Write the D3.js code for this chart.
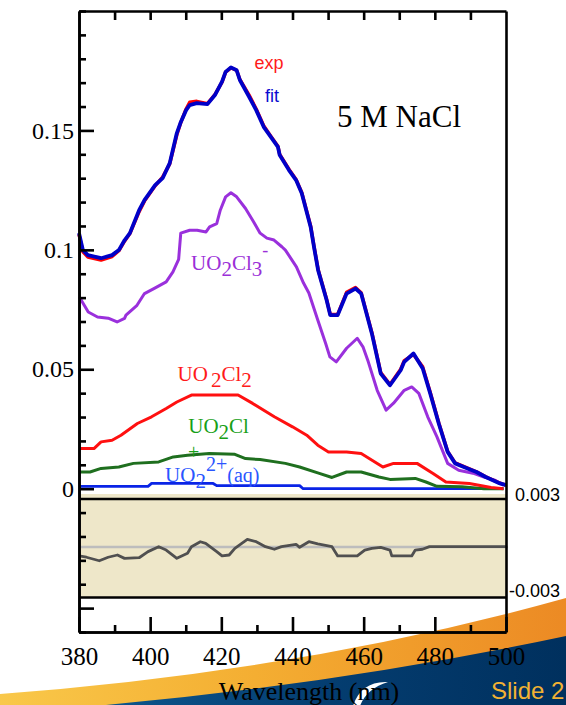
<!DOCTYPE html>
<html><head><meta charset="utf-8">
<script src="https://cdn.jsdelivr.net/npm/d3@7"></script>
<style>html,body{margin:0;padding:0;background:#fff;overflow:hidden}</style>
</head><body>
<svg id="c" width="566" height="705"></svg>
<script>
// ---------------- data ----------------
const wlFit = [380,381.1,382.5,386.2,389.3,391.2,392.8,394.3,396.9,398.4,401.4,403.5,405.5,407.5,408.5,410.1,411.1,413.1,416.1,418.2,420.2,421.2,422.7,424.3,425.2,427.8,429.8,431.9,433.9,435.9,436.4,439,441,442.6,444.1,445.1,446.1,447.2,449.6,450.6,452.7,455.2,457.7,459.3,462.3,464.8,467.4,470.4,471.4,474,476.6,478.7,481.1,483.6,485.7,489.2,491.7,494.3,498.3,500];
const absFit = [0.107,0.0999,0.0978,0.0965,0.0978,0.0999,0.104,0.107,0.1166,0.1208,0.1271,0.130,0.1363,0.1489,0.1531,0.1585,0.1606,0.1614,0.161,0.1648,0.1704,0.1745,0.1764,0.1752,0.1711,0.1641,0.1585,0.1515,0.1473,0.1431,0.1397,0.1334,0.1292,0.1237,0.1152,0.1096,0.1007,0.0915,0.0789,0.0727,0.0727,0.0817,0.0838,0.0817,0.065,0.0482,0.0433,0.0496,0.0531,0.0566,0.0503,0.0399,0.0273,0.0154,0.0106,0.0085,0.007,0.0049,0.0022,0.0015];
const absExp = [0.1065,0.0992,0.0970,0.0957,0.0972,0.0996,0.1036,0.1068,0.1160,0.1204,0.1268,0.1305,0.1360,0.1482,0.1528,0.1590,0.1618,0.1622,0.1612,0.1650,0.1702,0.1744,0.1762,0.1752,0.1714,0.1648,0.1590,0.1520,0.1476,0.1434,0.1400,0.1338,0.1295,0.1240,0.1156,0.1100,0.1010,0.0918,0.0792,0.0730,0.0730,0.0822,0.0842,0.0820,0.0654,0.0486,0.0436,0.0500,0.0536,0.0562,0.0510,0.0404,0.0276,0.0156,0.0108,0.0086,0.0071,0.0050,0.0023,0.0015];

const wlCl3 = [380.1,382.6,385.2,388.2,390.7,392.8,393.2,396.3,398.4,401.3,404.5,406.4,408.0,408.6,411.1,413.2,415.7,416.7,418.7,419.7,421.2,422.7,424.3,426.8,428.8,430.9,432.8,434.8,437,438,441.1,443.1,444.6,447.1,449.3,450.5,452.3,455.2,458.2,459.8,461.3,463.8,466.3,468.4,471.4,473.5,475.5,478,480.6,483.6,486.7,490.7,493.8,496.8,499.3];
const absCl3 = [0.0803,0.074,0.0719,0.0714,0.0698,0.0713,0.0727,0.0768,0.0817,0.084,0.0866,0.0908,0.0960,0.1070,0.1082,0.1082,0.1075,0.1096,0.111,0.1166,0.1222,0.1239,0.1222,0.1173,0.1124,0.107,0.1049,0.1041,0.1013,0.0999,0.0929,0.0861,0.0819,0.0706,0.0609,0.0552,0.0531,0.0588,0.063,0.0594,0.0531,0.0412,0.0329,0.0358,0.0412,0.0426,0.0399,0.0301,0.0217,0.0106,0.0077,0.0065,0.0049,0.0036,0.0015];

const wlCl2 = [380.1,384.2,386.2,389.3,391.8,396.4,400.4,404.5,407.5,411.6,424.7,428.8,434.9,440,444,447.1,450.1,455.2,459.3,465.4,468.4,475,479.5,483.1,489.7,495.8,499.3];
const absCl2 = [0.0168,0.0168,0.0196,0.0203,0.0224,0.0273,0.0301,0.0336,0.0363,0.0392,0.0392,0.0357,0.0301,0.0259,0.0224,0.0182,0.0154,0.0154,0.0147,0.0091,0.0106,0.0106,0.0064,0.0028,0.0022,0.0005,0.0];

const wlCl = [380.1,383.1,386.2,391.2,395.3,402.4,406.5,410.5,416.6,423.8,426.8,430.9,438,442,447.1,451.1,455.2,459.3,464.3,467.4,474.5,477.5,480.6,487.6,493.8,499.3];
const absCl = [0.007,0.007,0.0085,0.0091,0.0106,0.0112,0.0133,0.014,0.0147,0.0144,0.0126,0.0122,0.0106,0.0091,0.0066,0.0047,0.007,0.007,0.0049,0.0039,0.0043,0.0028,0.001,0.0008,0.0,0.0];

const wlAq = [380.1,399.4,400.4,417.7,418.7,442,443,499.3];
const absAq = [0.001,0.001,0.0022,0.0022,0.0013,0.0013,0.0,0.0];

const wlRes = [380,382.1,385.7,388.2,390.8,392.8,396.9,399.4,402.4,404.5,407.5,410.5,411.6,414.1,415.6,418.7,420.2,422.2,423.8,427.3,429.8,432.4,434.9,436.9,441,442,444.6,447.1,451.1,452.7,458.2,460.3,462.3,464.8,467.4,467.9,473.5,474.5,476.5,478.5,500];
const resid = [-0.00056,-0.00064,-0.00086,-0.00064,-0.0005,-0.00071,-0.00067,-0.00029,0.00002,-0.00019,-0.00071,-0.00039,0.00002,0.00033,0.00023,-0.00029,-0.00056,-0.0005,-0.00008,0.00048,0.00033,0.00002,-0.00014,0.00002,0.00017,-0.00002,0.00033,0.00019,0.00002,-0.00056,-0.00056,-0.00019,-0.00008,-0.00002,-0.00019,-0.00056,-0.00056,-0.00019,-0.00014,0.00002,0.00002];

const xMajor = [380,400,420,440,460,480,500];
const xTickLabels = ["380","400","420","440","460","480","500"];
const yMajor = [-0.05,0,0.05,0.1,0.15];
const yTickLabels = ["","0","0.05","0.1","0.15"];
const resTicks = [0.003,-0.003];
const resTickLabels = ["0.003","-0.003"];

// ---------------- layout ----------------
const svg = d3.select('#c');
const L=79, R=506, T=11, B=632;
const x = d3.scaleLinear().domain([380,500]).range([L,R]);
const y = d3.scaleLinear().domain([-0.06,0.2]).range([B,T]);
const r = d3.scaleLinear().domain([-0.003,0.003]).range([595,499]);
const SERIF = "'Liberation Serif','Times New Roman',serif";
const SANS = "'Liberation Sans',Arial,sans-serif";

// background slide decoration
const defs = svg.append('defs');
const g1 = defs.append('linearGradient').attr('id','orng').attr('x1','0').attr('x2','1').attr('y1','0').attr('y2','0');
g1.append('stop').attr('offset','0').attr('stop-color','#f9c84a');
g1.append('stop').attr('offset','0.45').attr('stop-color','#f4ae32');
g1.append('stop').attr('offset','1').attr('stop-color','#ec8a24');
const g2 = defs.append('linearGradient').attr('id','dblue').attr('x1','0').attr('x2','1').attr('y1','0').attr('y2','0');
g2.append('stop').attr('offset','0').attr('stop-color','#0d578e');
g2.append('stop').attr('offset','0.5').attr('stop-color','#043d70');
g2.append('stop').attr('offset','1').attr('stop-color','#00305e');

svg.append('rect').attr('width',566).attr('height',705).attr('fill','#fff');
svg.append('path').attr('d','M0,705 L0,694 Q300,672 566,598 L566,705 Z').attr('fill','url(#orng)');
svg.append('path').attr('d','M95,706 Q340,684 566,636 L566,705 L95,705 Z').attr('fill','url(#dblue)');
svg.append('path').attr('d','M353,706 C358,690 370,681 388,682 C374,686 364,695 360,706 Z').attr('fill','#fff');
svg.append('text').attr('x',491).attr('y',699).attr('font-family',SANS).attr('font-size',24)
  .attr('fill','#f2b233').text('Slide 2');

// residual panel
svg.append('rect').attr('x',L).attr('y',494).attr('width',R-L).attr('height',597.5-494).attr('fill','#eee7c9');
svg.append('line').attr('x1',L).attr('x2',R+2).attr('y1',r(0)).attr('y2',r(0)).attr('stroke','#bdbdbd').attr('stroke-width',2.5);
svg.append('path').datum(wlRes.map((w,i)=>[w,resid[i]]))
  .attr('d',d3.line().x(d=>x(d[0])).y(d=>r(d[1])))
  .attr('fill','none').attr('stroke','#505050').attr('stroke-width',2.8).attr('stroke-linejoin','round');
[r(0.003), 597.5].forEach(yy=>{
  svg.append('line').attr('x1',L).attr('x2',R).attr('y1',yy).attr('y2',yy).attr('stroke','#000').attr('stroke-width',2.5);
});

// residual labels (right)
const ra = svg.append('g').attr('transform',`translate(${R},-4)`)
  .call(d3.axisRight(r).tickValues(resTicks).tickSize(0).tickPadding(0).tickFormat((d,i)=>resTickLabels[i]));
ra.select('.domain').remove();
ra.selectAll('text').attr('font-family',SANS).attr('font-size',18).attr('fill','#000')
  .attr('text-anchor','end').attr('x',54);

// curves
const line = d3.line().x(d=>x(d[0])).y(d=>y(d[1]));
function curve(wl, vals, color, w){
  svg.append('path').datum(wl.map((v,i)=>[v,vals[i]])).attr('d',line)
    .attr('fill','none').attr('stroke',color).attr('stroke-width',w).attr('stroke-linejoin','round');
}
curve(wlAq, absAq, '#0a24e6', 2.8);
curve(wlCl, absCl, '#1f6f1f', 3);
curve(wlCl2, absCl2, '#ff1010', 3);
curve(wlCl3, absCl3, '#9a30dc', 3);
curve(wlFit, absExp, '#ff0000', 3.4);
curve(wlFit, absFit, '#0000c8', 3.8);

// axes / frame
function styleAxis(g){
  g.selectAll('line,path').attr('stroke','#000').attr('stroke-width',2.6);
}
const yMinor = d3.range(-6,21).map(v=>v/100).filter(v=>!yMajor.some(m=>Math.abs(m-v)<1e-9));
const lm = svg.append('g').attr('transform',`translate(${L},0)`)
  .call(d3.axisLeft(y).tickValues(yMinor).tickSizeInner(-7).tickSizeOuter(0).tickFormat(''));
styleAxis(lm);
const lM = svg.append('g').attr('transform',`translate(${L},0)`)
  .call(d3.axisLeft(y).tickValues(yMajor).tickSizeInner(-15).tickSizeOuter(0).tickPadding(5)
  .tickFormat((d,i)=>yTickLabels[i]));
styleAxis(lM);
lM.selectAll('text').attr('font-family',SERIF).attr('font-size',24).attr('fill','#000');
const rb = svg.append('g').attr('transform',`translate(${R},0)`)
  .call(d3.axisRight(y).tickValues([]).tickSizeOuter(0));
styleAxis(rb);
const tp = svg.append('g').attr('transform',`translate(0,${T})`)
  .call(d3.axisTop(x).tickValues(d3.range(390,500,10)).tickSizeInner(-9).tickSizeOuter(0).tickFormat(''));
styleAxis(tp);
const bm = svg.append('g').attr('transform',`translate(0,${B})`)
  .call(d3.axisBottom(x).tickValues(d3.range(390,500,20)).tickSizeInner(-7).tickSizeOuter(0).tickFormat(''));
styleAxis(bm);
const bM = svg.append('g').attr('transform',`translate(0,${B})`)
  .call(d3.axisBottom(x).tickValues(xMajor).tickSizeInner(-15).tickSizeOuter(0).tickPadding(15)
  .tickFormat((d,i)=>xTickLabels[i]));
styleAxis(bM);
bM.selectAll('text').attr('font-family',SERIF).attr('font-size',25).attr('fill','#000');

svg.append('text').attr('x',309).attr('y',700).attr('text-anchor','middle')
  .attr('font-family',SERIF).attr('font-size',26).attr('fill','#000').text('Wavelength (nm)');

// annotations
svg.append('text').attr('x',337).attr('y',127).attr('font-family',SERIF).attr('font-size',31)
  .attr('fill','#000').text('5 M NaCl');
svg.append('text').attr('x',x(429.3)).attr('y',y(0.1757)).attr('font-family',SANS).attr('font-size',18)
  .attr('fill','#ff1a1a').text('exp');
svg.append('text').attr('x',x(432.3)).attr('y',y(0.162)).attr('font-family',SANS).attr('font-size',18)
  .attr('fill','#0a0ad0').text('fit');

function chem(wl, v, color, parts){
  const t = svg.append('text').attr('x',x(wl)).attr('y',y(v)).attr('font-family',SERIF)
    .attr('font-size',21).attr('fill',color);
  let cur = 0;
  parts.forEach(p=>{
    const sp = t.append('tspan').text(p[0]);
    const shift = p[1]-cur;
    if(shift!==0) sp.attr('dy',shift);
    if(p[2]) sp.attr('dx',p[2]);
    if(p[3]) sp.attr('font-size',p[3]);
    cur = p[1];
  });
}
chem(411.5,0.0916,'#9b2fd8',[['UO',0],['2',6],['Cl',0],['3',6],['-',-14,0,18]]);
chem(407.7,0.0452,'#ff1a1a',[['UO',0],['2',6,3],['Cl',0],['2',6]]);
chem(410.7,0.0233,'#17a017',[['UO',0],['2',6],['Cl',0]]);
svg.append('text').attr('x',x(412.2)).attr('y',y(0.0125)).attr('text-anchor','middle')
  .attr('font-family',SERIF).attr('font-size',20).attr('fill','#17a017').text('+');
chem(404.2,0.0029,'#2a55ff',[['UO',0],['2',6],['2+',-11,0,20],['(aq)',0,0,20]]);
</script>
</body></html>
